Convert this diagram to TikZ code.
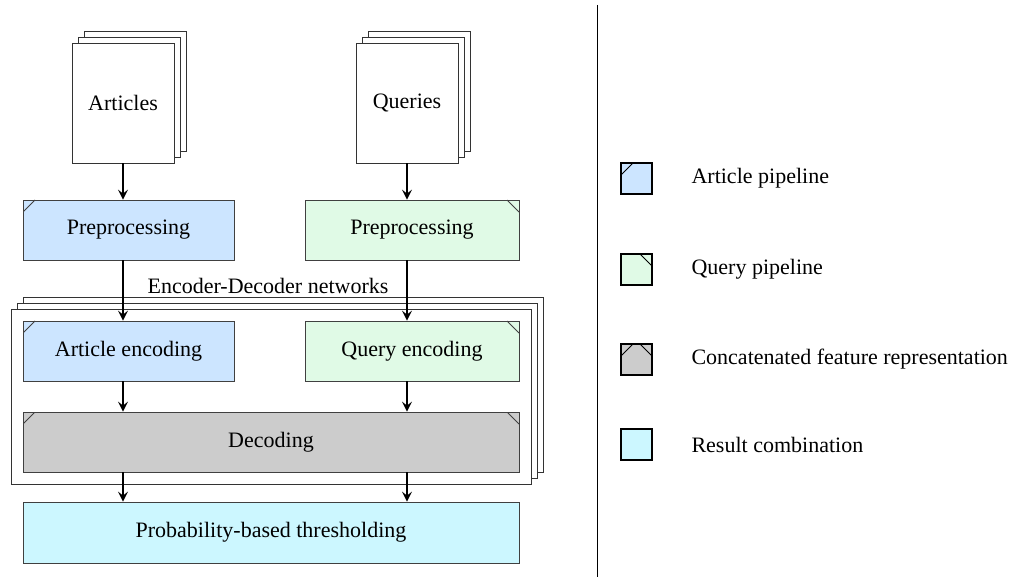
\documentclass[tikz,border=0pt]{standalone}
\usepackage{fontspec}
\setmainfont{Liberation Serif}
\usetikzlibrary{arrows.meta,shadows}
\definecolor{artblue}{RGB}{204,229,255}
\definecolor{qrygreen}{RGB}{224,250,230}
\definecolor{decgray}{RGB}{204,204,204}
\definecolor{rescyan}{RGB}{204,247,255}
\tikzset{
  txt/.style={font=\fontsize{22}{26}\selectfont},
  box/.style={txt, draw=black!75, line width=0.8pt, minimum height=60pt, inner sep=0pt},
  cutleft/.style={path picture={\draw[line width=0.8pt] ([yshift=-12pt]path picture bounding box.north west) -- ([xshift=12pt]path picture bounding box.north west);}},
  cutright/.style={path picture={\draw[line width=0.8pt] ([xshift=-12pt]path picture bounding box.north east) -- ([yshift=-12pt]path picture bounding box.north east);}},
  cutboth/.style={path picture={
    \draw[line width=0.8pt] ([yshift=-12pt]path picture bounding box.north west) -- ([xshift=12pt]path picture bounding box.north west);
    \draw[line width=0.8pt] ([xshift=-12pt]path picture bounding box.north east) -- ([yshift=-12pt]path picture bounding box.north east);}},
  page/.style={txt, draw=black!80, fill=white, line width=0.8pt, minimum width=102pt, minimum height=120pt,
    copy shadow={shadow xshift=12pt, shadow yshift=12pt, draw=black!80, fill=white},
    copy shadow={shadow xshift=6pt, shadow yshift=6pt, draw=black!80, fill=white}},
  frame/.style={draw=black!80, fill=white, line width=0.8pt, minimum width=520pt, minimum height=175pt,
    copy shadow={shadow xshift=12pt, shadow yshift=12pt, draw=black!80, fill=white},
    copy shadow={shadow xshift=6pt, shadow yshift=6pt, draw=black!80, fill=white}},
  legbox/.style={draw=black, line width=1.2pt, minimum width=31pt, minimum height=31pt, inner sep=0pt},
  arr/.style={-{Stealth[length=10pt,width=10pt,inset=4pt]}, line width=1.2pt},
}
\begin{document}
\begin{tikzpicture}[x=1pt,y=1pt]
\useasboundingbox (0,0) rectangle (1012,-577);
% input documents
\node[page] (art) at (123,-103) {Articles};
\node[page] (qry) at (407,-103) {Queries};
%
\node[box, fill=artblue, cutleft, minimum width=211pt] (artpre) at (128.5,-230) {Preprocessing};
\node[box, fill=qrygreen, cutright, minimum width=214pt] (qrypre) at (412,-230) {Preprocessing};
%
\node[frame] (encdec) at (271,-396.5) {};
\node[txt] (enclbl) at (268,-286) {Encoder-Decoder networks};
\node[box, fill=artblue, cutleft, minimum width=211pt] (artenc) at (128.5,-351) {Article encoding};
\node[box, fill=qrygreen, cutright, minimum width=214pt] (qryenc) at (412,-351) {Query encoding};
\node[box, fill=decgray, cutboth, minimum width=496pt] (dec) at (271,-442) {Decoding};
%
\node[box, fill=rescyan, minimum width=496pt, minimum height=61pt] (prob) at (271,-532.5) {Probability-based thresholding};
%
\draw[arr] (art.south) -- (art.south |- artpre.north);
\draw[arr] (qry.south) -- (qry.south |- qrypre.north);
\draw[arr] (artpre.south -| art.south) -- (artenc.north -| art.south);
\draw[arr] (qrypre.south -| qry.south) -- (qryenc.north -| qry.south);
\draw[arr] (artenc.south -| art.south) -- (dec.north -| art.south);
\draw[arr] (qryenc.south -| qry.south) -- (dec.north -| qry.south);
\draw[arr] (dec.south -| art.south) -- (prob.north -| art.south);
\draw[arr] (dec.south -| qry.south) -- (prob.north -| qry.south);
% divider
\coordinate (divtop) at (597,-5);
\coordinate (divbot) at (597,-577);
\draw[line width=0.8pt] (divtop) -- (divbot);
% legend
\node[legbox, fill=artblue, cutleft] (legart) at (636.5,-178.5) {};
\node[txt, anchor=west] (legarttxt) at (688,-178.5) {Article pipeline};
\node[legbox, fill=qrygreen, cutright] (legqry) at (636.5,-269.5) {};
\node[txt, anchor=west] (legqrytxt) at (688,-269.5) {Query pipeline};
\node[legbox, fill=decgray, cutboth] (legdec) at (636.5,-359.5) {};
\node[txt, anchor=west] (legdectxt) at (688,-359.5) {Concatenated feature representation};
\node[legbox, fill=rescyan] (legres) at (636.5,-444.5) {};
\node[txt, anchor=west] (legrestxt) at (688,-444.5) {Result combination};
\end{tikzpicture}
\end{document}
